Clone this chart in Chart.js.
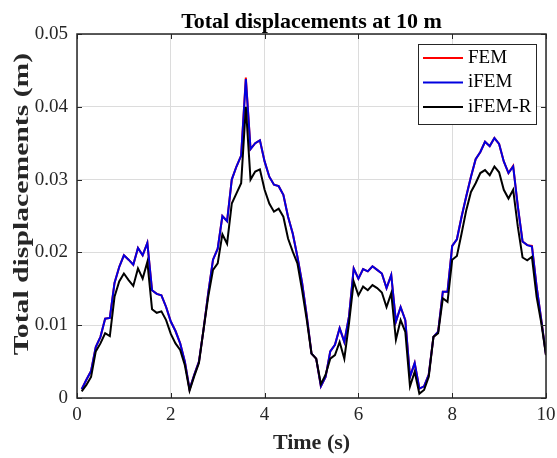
<!DOCTYPE html>
<html>
<head>
<meta charset="utf-8">
<title>Total displacements at 10 m</title>
<script src="https://cdn.jsdelivr.net/npm/chart.js@4.4.1/dist/chart.umd.min.js"></script>
<style>
  html, body { margin: 0; padding: 0; background: #fff; }
  #wrap { width: 557px; height: 458px; }
</style>
</head>
<body>
<div id="wrap"><canvas id="dispChart" width="557" height="458"></canvas></div>
<script>
// time axis, 0.1 s steps
const times = [
  0.1, 0.2, 0.3, 0.4, 0.5, 0.6, 0.7, 0.8, 0.9, 1.0,
  1.1, 1.2, 1.3, 1.4, 1.5, 1.6, 1.7, 1.8, 1.9, 2.0,
  2.1, 2.2, 2.3, 2.4, 2.5, 2.6, 2.7, 2.8, 2.9, 3.0,
  3.1, 3.2, 3.3, 3.4, 3.5, 3.6, 3.7, 3.8, 3.9, 4.0,
  4.1, 4.2, 4.3, 4.4, 4.5, 4.6, 4.7, 4.8, 4.9, 5.0,
  5.1, 5.2, 5.3, 5.4, 5.5, 5.6, 5.7, 5.8, 5.9, 6.0,
  6.1, 6.2, 6.3, 6.4, 6.5, 6.6, 6.7, 6.8, 6.9, 7.0,
  7.1, 7.2, 7.3, 7.4, 7.5, 7.6, 7.7, 7.8, 7.9, 8.0,
  8.1, 8.2, 8.3, 8.4, 8.5, 8.6, 8.7, 8.8, 8.9, 9.0,
  9.1, 9.2, 9.3, 9.4, 9.5, 9.6, 9.7, 9.8, 9.9, 10.0
];

// FEM (red, mostly hidden under iFEM)
const femValues = [
  0.0012, 0.0025, 0.0037, 0.0070, 0.0084, 0.0109, 0.0110, 0.0158, 0.0180, 0.0196,
  0.0190, 0.0183, 0.0206, 0.0196, 0.0213, 0.0148, 0.0143, 0.0141, 0.0125, 0.0105,
  0.0092, 0.0075, 0.0050, 0.0012, 0.0032, 0.0050, 0.0095, 0.0145, 0.0190, 0.0205,
  0.0250, 0.0243, 0.0300, 0.0318, 0.0333, 0.0440, 0.0342, 0.0350, 0.0354, 0.0325,
  0.0304, 0.0293, 0.0291, 0.0279, 0.0249, 0.0226, 0.0194, 0.0158, 0.0112, 0.0061,
  0.0054, 0.0016, 0.0029, 0.0064, 0.0073, 0.0096, 0.0077, 0.0112, 0.0178, 0.0164,
  0.0177, 0.0174, 0.0181, 0.0176, 0.0171, 0.0151, 0.0169, 0.0105, 0.0125, 0.0107,
  0.0029, 0.0048, 0.0013, 0.0016, 0.0032, 0.0084, 0.0091, 0.0146, 0.0146, 0.0209,
  0.0218, 0.0249, 0.0277, 0.0304, 0.0328, 0.0338, 0.0352, 0.0346, 0.0357, 0.0349,
  0.0325, 0.0309, 0.0319, 0.0263, 0.0215, 0.0210, 0.0209, 0.0153, 0.0107, 0.0059
];

// iFEM (blue)
const ifemValues = [
  0.0012, 0.0025, 0.0037, 0.0070, 0.0084, 0.0109, 0.0110, 0.0158, 0.0180, 0.0196,
  0.0190, 0.0183, 0.0206, 0.0196, 0.0213, 0.0148, 0.0143, 0.0141, 0.0125, 0.0105,
  0.0092, 0.0075, 0.0050, 0.0012, 0.0032, 0.0050, 0.0095, 0.0145, 0.0190, 0.0205,
  0.0250, 0.0243, 0.0300, 0.0318, 0.0333, 0.0438, 0.0342, 0.0350, 0.0354, 0.0325,
  0.0304, 0.0293, 0.0291, 0.0279, 0.0249, 0.0226, 0.0194, 0.0158, 0.0112, 0.0061,
  0.0054, 0.0016, 0.0029, 0.0064, 0.0073, 0.0096, 0.0077, 0.0112, 0.0178, 0.0164,
  0.0177, 0.0174, 0.0181, 0.0176, 0.0171, 0.0151, 0.0169, 0.0105, 0.0125, 0.0107,
  0.0029, 0.0048, 0.0013, 0.0016, 0.0032, 0.0084, 0.0091, 0.0146, 0.0146, 0.0209,
  0.0218, 0.0249, 0.0277, 0.0304, 0.0328, 0.0338, 0.0352, 0.0346, 0.0357, 0.0349,
  0.0325, 0.0309, 0.0318, 0.0263, 0.0215, 0.0210, 0.0208, 0.0153, 0.0107, 0.0059
];

// iFEM-R (black)
const ifemRValues = [
  0.0009, 0.0018, 0.0029, 0.0064, 0.0075, 0.0089, 0.0085, 0.0139, 0.0160, 0.0171,
  0.0162, 0.0154, 0.0178, 0.0164, 0.0187, 0.0122, 0.0117, 0.0119, 0.0107, 0.0088,
  0.0075, 0.0066, 0.0045, 0.0010, 0.0030, 0.0048, 0.0095, 0.0140, 0.0176, 0.0185,
  0.0225, 0.0212, 0.0267, 0.0281, 0.0295, 0.0400, 0.0300, 0.0311, 0.0314, 0.0286,
  0.0267, 0.0256, 0.0260, 0.0249, 0.0219, 0.0201, 0.0185, 0.0148, 0.0107, 0.0061,
  0.0054, 0.0019, 0.0032, 0.0054, 0.0059, 0.0077, 0.0054, 0.0103, 0.0160, 0.0141,
  0.0153, 0.0148, 0.0155, 0.0151, 0.0145, 0.0125, 0.0144, 0.0080, 0.0107, 0.0091,
  0.0016, 0.0036, 0.0006, 0.0011, 0.0029, 0.0084, 0.0089, 0.0137, 0.0132, 0.0190,
  0.0195, 0.0226, 0.0258, 0.0283, 0.0295, 0.0309, 0.0313, 0.0306, 0.0318, 0.0310,
  0.0286, 0.0274, 0.0286, 0.0235, 0.0193, 0.0189, 0.0194, 0.0139, 0.0103, 0.0059
];

const seriesNames = ["FEM", "iFEM", "iFEM-R"];
const seriesColors = ["#ff0000", "#0000e0", "#000000"];
const xTicks = [0, 2, 4, 6, 8, 10];
const yTicks = [0, 0.01, 0.02, 0.03, 0.04, 0.05];
const chartTitle = "Total displacements at 10 m";
const yTitle = "Total displacements (m)";

const serif = "'Liberation Serif', 'Times New Roman', serif";
const axisColor = "#262626";

function toPoints(vals) {
  return times.map((t, i) => ({ x: t, y: vals[i] }));
}

// MATLAB-style box, inward ticks, titles centred on the axes, legend inside
const matlabFrame = {
  id: "matlabFrame",
  afterDraw(chart) {
    const { ctx, chartArea: a, scales } = chart;
    ctx.save();
    ctx.strokeStyle = axisColor;
    ctx.lineWidth = 1;
    const tl = 5;
    ctx.beginPath();
    scales.x.ticks.forEach(t => {
      const px = Math.round(scales.x.getPixelForValue(t.value)) + 0.5;
      ctx.moveTo(px, a.bottom); ctx.lineTo(px, a.bottom - tl);
      ctx.moveTo(px, a.top); ctx.lineTo(px, a.top + tl);
    });
    scales.y.ticks.forEach(t => {
      const py = Math.round(scales.y.getPixelForValue(t.value)) + 0.5;
      ctx.moveTo(a.left, py); ctx.lineTo(a.left + tl, py);
      ctx.moveTo(a.right, py); ctx.lineTo(a.right - tl, py);
    });
    ctx.stroke();
    ctx.lineWidth = 1.5;
    ctx.strokeRect(a.left, a.top, a.right - a.left, a.bottom - a.top);

    // title over the plot box
    ctx.fillStyle = "#000";
    ctx.font = "bold 22px " + serif;
    ctx.textAlign = "center";
    ctx.textBaseline = "alphabetic";
    ctx.fillText(chartTitle, (a.left + a.right) / 2, a.top - 6);

    // y axis title (the source figure is stretched vertically)
    ctx.save();
    ctx.translate(22, (a.top + a.bottom) / 2 - 12);
    ctx.rotate(-Math.PI / 2);
    ctx.scale(1.35, 1);
    ctx.fillStyle = "#262626";
    ctx.textBaseline = "middle";
    ctx.fillText(yTitle, 0, 0);
    ctx.restore();

    // legend
    const w = 118, h = 80;
    const lx = a.right - 10 - w, ly = a.top + 10;
    ctx.fillStyle = "#fff";
    ctx.fillRect(lx, ly, w, h);
    ctx.lineWidth = 1;
    ctx.strokeStyle = axisColor;
    ctx.strokeRect(lx + 0.5, ly + 0.5, w, h);
    ctx.font = "19px " + serif;
    ctx.textBaseline = "middle";
    ctx.textAlign = "left";
    seriesNames.forEach((name, i) => {
      const yy = ly + 14 + i * 24.5;
      ctx.strokeStyle = seriesColors[i];
      ctx.lineWidth = 2;
      ctx.beginPath();
      ctx.moveTo(lx + 5, yy); ctx.lineTo(lx + 45, yy);
      ctx.stroke();
      ctx.fillStyle = "#000";
      ctx.fillText(name, lx + 50, yy);
    });
    ctx.restore();
  }
};

const ctx = document.getElementById("dispChart").getContext("2d");
new Chart(ctx, {
  type: "line",
  data: {
    datasets: [
      { label: seriesNames[0], data: toPoints(femValues), borderColor: seriesColors[0], order: 3 },
      { label: seriesNames[1], data: toPoints(ifemValues), borderColor: seriesColors[1], order: 2 },
      { label: seriesNames[2], data: toPoints(ifemRValues), borderColor: seriesColors[2], order: 1 }
    ]
  },
  options: {
    responsive: false,
    animation: false,
    events: [],
    layout: { padding: { left: 0, right: 11, top: 34, bottom: 0 } },
    elements: {
      point: { radius: 0 },
      line: { borderWidth: 2, tension: 0 }
    },
    plugins: {
      legend: { display: false },
      tooltip: { enabled: false },
      title: { display: false }
    },
    scales: {
      x: {
        type: "linear",
        min: 0,
        max: 10,
        afterBuildTicks: s => { s.ticks = xTicks.map(v => ({ value: v })); },
        afterFit: s => { s.height = 60; s.paddingLeft = 0; s.paddingRight = 0; },
        ticks: {
          color: axisColor,
          font: { family: serif, size: 19 },
          padding: 6,
          maxRotation: 0
        },
        grid: { color: "#dcdcdc", drawTicks: false },
        border: { display: false },
        title: {
          display: true,
          text: "Time (s)",
          color: "#262626",
          font: { family: serif, size: 22, weight: "bold" },
          padding: { top: 0, bottom: 1 }
        }
      },
      y: {
        min: 0,
        max: 0.05,
        afterBuildTicks: s => { s.ticks = yTicks.map(v => ({ value: v })); },
        afterFit: s => { s.width = 77; s.paddingTop = 0; s.paddingBottom = 0; },
        ticks: {
          color: axisColor,
          font: { family: serif, size: 19 },
          padding: 9,
          callback: v => (v === 0 ? "0" : v.toFixed(2))
        },
        grid: { color: "#dcdcdc", drawTicks: false },
        border: { display: false },
        title: { display: false }
      }
    }
  },
  plugins: [matlabFrame]
});
</script>
</body>
</html>
